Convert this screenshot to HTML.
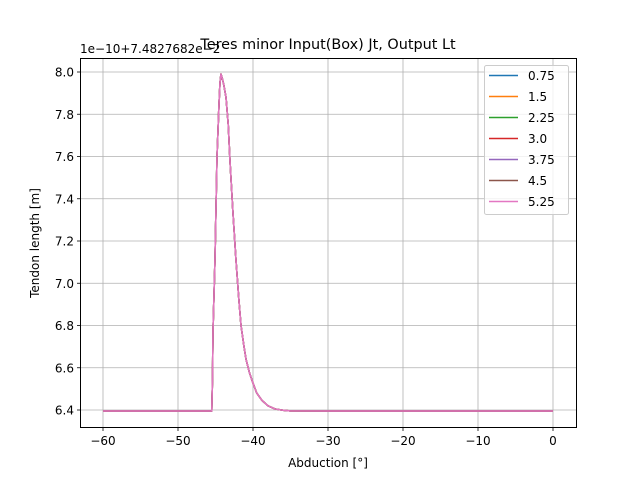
<!DOCTYPE html>
<html><head><meta charset="utf-8"><style>
body{margin:0;background:#fff}
svg text{font-family:"DejaVu Sans","Liberation Sans",sans-serif;fill:#000}
</style></head><body>
<svg id="chart" width="640" height="480" xmlns="http://www.w3.org/2000/svg">
<rect width="640" height="480" fill="#fff"/>
<g id="grid"></g>
<g id="series"></g>
<rect x="80.5" y="58.5" width="496" height="369" fill="none" stroke="#000" stroke-width="1"/>
<g id="ticks"></g>
<text x="328" y="49" font-size="14.4" text-anchor="middle">Teres minor Input(Box) Jt, Output Lt</text>
<text x="80" y="53" font-size="12">1e−10+7.4827682e−2</text>
<text x="328" y="467" font-size="12" text-anchor="middle">Abduction [°]</text>
<text transform="translate(39,243) rotate(-90)" font-size="12" text-anchor="middle">Tendon length [m]</text>
<g id="legend"></g>
</svg>
<script>
const abduction=[-60,-45.5,-45.4,-45.33,-45.07,-44.8,-44.53,-44.4,-44.27,-44.1,-43.9,-43.6,-43.3,-43.07,-42.7,-42.27,-41.9,-41.6,-41.2,-40.93,-40.5,-40.13,-39.5,-38.8,-38,-37.07,-36,-35.07,-30,0];
const tendonLength=[6.395,6.395,6.55,6.78,7.11,7.6,7.85,7.95,7.99,7.97,7.94,7.88,7.75,7.58,7.35,7.11,6.93,6.80,6.70,6.64,6.58,6.54,6.48,6.445,6.42,6.405,6.399,6.396,6.395,6.395];
const seriesLabels=["0.75","1.5","2.25","3.0","3.75","4.5","5.25"];
const seriesColors=["#1f77b4","#ff7f0e","#2ca02c","#d62728","#9467bd","#8c564b","#e377c2"];
const xTicks=[-60,-50,-40,-30,-20,-10,0];
const yTicks=[6.4,6.6,6.8,7.0,7.2,7.4,7.6,7.8,8.0];
const NS="http://www.w3.org/2000/svg";
const xs=v=>103+(v+60)*7.5;
const ys=v=>72+(8.0-v)*211.25;
function mk(tag,attrs,parent){const e=document.createElementNS(NS,tag);for(const k in attrs)e.setAttribute(k,attrs[k]);parent.appendChild(e);return e;}
const grid=document.getElementById('grid'),ticks=document.getElementById('ticks');
xTicks.forEach(t=>{const x=xs(t);
 const g=mk('line',{x1:x,x2:x,y1:58.5,y2:427.5,stroke:'#b0b0b0','stroke-width':0.8},grid);
 
 
 const tk=mk('line',{x1:x,x2:x,y1:427.5,y2:431,stroke:'#000','stroke-width':0.8},ticks);
 
 
 const tl=mk('text',{x:x,y:445,'font-size':12,'text-anchor':'middle'},ticks);tl.textContent=(t<0?'−'+(-t):String(t));
 
 
});
yTicks.forEach(t=>{const y=ys(t);
 const g=mk('line',{x1:80.5,x2:576.5,y1:y,y2:y,stroke:'#b0b0b0','stroke-width':0.8},grid);
 
 
 const tk=mk('line',{x1:77,x2:80.5,y1:y,y2:y,stroke:'#000','stroke-width':0.8},ticks);
 
 
 const tl=mk('text',{x:74,y:y+4.5,'font-size':12,'text-anchor':'end'},ticks);tl.textContent=t.toFixed(1);
 
 
});
const sg=document.getElementById('series');
const d=abduction.map((a,i)=>(i?'L':'M')+xs(a).toFixed(2)+','+ys(tendonLength[i]).toFixed(2)).join(' ');
seriesLabels.forEach((lab,i)=>{
 const p=mk('path',{d:d,fill:'none',stroke:seriesColors[i],'stroke-width':1.5,'stroke-linejoin':'round'},sg);
 
 
});
const lg=document.getElementById('legend');
const box=mk('rect',{x:484.5,y:65.5,width:84,height:149,rx:2,fill:'#fff','fill-opacity':0.8,stroke:'#ccc','stroke-width':1},lg);


seriesLabels.forEach((lab,i)=>{const y=75.5+i*21;
 const l=mk('line',{x1:489,x2:518,y1:y,y2:y,stroke:seriesColors[i],'stroke-width':1.5},lg);
 
 
 const t=mk('text',{x:528,y:y+4.5,'font-size':12},lg);t.textContent=lab;
 
 
});
</script>
</body></html>
